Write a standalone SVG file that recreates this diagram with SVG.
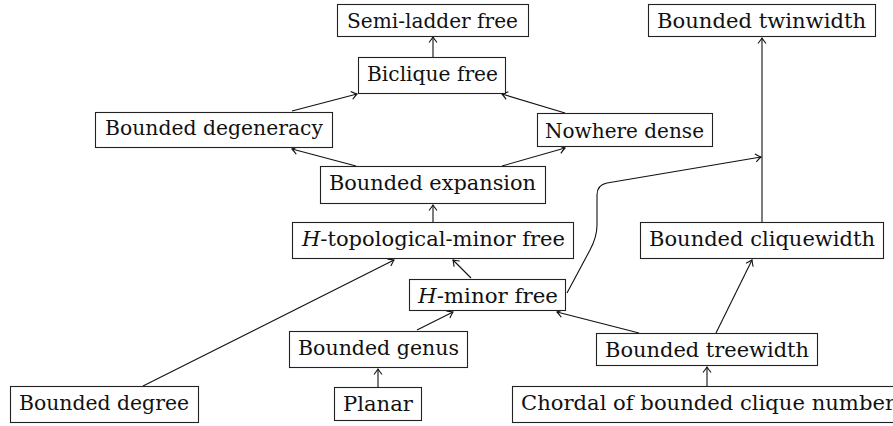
<svg xmlns="http://www.w3.org/2000/svg" width="893" height="426" viewBox="0 0 893 426">
<style>
.box{fill:#fff;stroke:#222;stroke-width:1.1}
.t{font-family:"DejaVu Serif","Liberation Serif",serif;font-size:19.5px;fill:#111;text-anchor:start}
.c{fill:none;stroke:#111;stroke-width:1.1;marker-end:url(#ar)}
</style>
<defs>
<marker id="ar" markerUnits="userSpaceOnUse" markerWidth="12" markerHeight="12" viewBox="-6 -6 12 12" refX="0" refY="0" orient="auto">
<path d="M-5.5,-4 Q-1.6,-0.9 0,0 Q-1.6,0.9 -5.5,4" fill="none" stroke="#111" stroke-width="1.1"/>
</marker>
</defs>
<rect width="893" height="426" fill="#fff"/>
<g id="connectors">
<line class="c" x1="433" y1="57" x2="433" y2="37"/>
<line class="c" x1="292" y1="111" x2="357" y2="94"/>
<line class="c" x1="565" y1="113" x2="502" y2="94"/>
<line class="c" x1="356" y1="166" x2="292" y2="149"/>
<line class="c" x1="502" y1="166" x2="565" y2="148"/>
<line class="c" x1="433" y1="222" x2="433" y2="205"/>
<line class="c" x1="471" y1="278" x2="453" y2="260"/>
<line class="c" x1="417" y1="330" x2="453" y2="312"/>
<line class="c" x1="378" y1="387" x2="378" y2="369"/>
<line class="c" x1="143" y1="386" x2="394" y2="260"/>
<line class="c" x1="639" y1="333" x2="557" y2="312"/>
<line class="c" x1="716" y1="333" x2="752" y2="260"/>
<line class="c" x1="707" y1="386" x2="707" y2="367"/>
<line class="c" x1="762" y1="222" x2="762" y2="38"/>
<path class="c" d="M567,293 L590,250 Q597,237 597,225 L597,195 Q597,185 607,183 L761,157"/>
</g>
<g id="semi-ladder"><rect class="box" x="337.5" y="4.5" width="191" height="32"/><text class="t" x="347" y="28" textLength="171" lengthAdjust="spacingAndGlyphs">Semi-ladder free</text></g>
<g id="biclique"><rect class="box" x="358.5" y="57.5" width="147" height="36"/><text class="t" x="367" y="81" textLength="131" lengthAdjust="spacingAndGlyphs">Biclique free</text></g>
<g id="degeneracy"><rect class="box" x="95.5" y="112.5" width="237" height="35"/><text class="t" x="105" y="135" textLength="218" lengthAdjust="spacingAndGlyphs">Bounded degeneracy</text></g>
<g id="nowhere"><rect class="box" x="537.5" y="113.5" width="175" height="33"/><text class="t" x="545" y="138" textLength="159" lengthAdjust="spacingAndGlyphs">Nowhere dense</text></g>
<g id="expansion"><rect class="box" x="320.5" y="166.5" width="225" height="37"/><text class="t" x="329" y="190" textLength="207" lengthAdjust="spacingAndGlyphs">Bounded expansion</text></g>
<g id="twinwidth"><rect class="box" x="648.5" y="4.5" width="227" height="32"/><text class="t" x="657" y="28" textLength="209" lengthAdjust="spacingAndGlyphs">Bounded twinwidth</text></g>
<g id="htop"><rect class="box" x="292.5" y="222.5" width="281" height="36"/><text class="t" x="302" y="246" textLength="263" lengthAdjust="spacingAndGlyphs"><tspan font-style="italic">H</tspan>-topological-minor free</text></g>
<g id="hminor"><rect class="box" x="409.5" y="279.5" width="156" height="31"/><text class="t" x="418" y="303" textLength="140" lengthAdjust="spacingAndGlyphs"><tspan font-style="italic">H</tspan>-minor free</text></g>
<g id="genus"><rect class="box" x="289.5" y="331.5" width="178" height="36"/><text class="t" x="298" y="355" textLength="161" lengthAdjust="spacingAndGlyphs">Bounded genus</text></g>
<g id="planar"><rect class="box" x="334.5" y="387.5" width="87" height="33"/><text class="t" x="343" y="411" textLength="70" lengthAdjust="spacingAndGlyphs">Planar</text></g>
<g id="degree"><rect class="box" x="10.5" y="386.5" width="188" height="36"/><text class="t" x="19" y="410" textLength="170" lengthAdjust="spacingAndGlyphs">Bounded degree</text></g>
<g id="treewidth"><rect class="box" x="596.5" y="333.5" width="221" height="32"/><text class="t" x="605" y="357" textLength="204" lengthAdjust="spacingAndGlyphs">Bounded treewidth</text></g>
<g id="cliquewidth"><rect class="box" x="640.5" y="222.5" width="243" height="36"/><text class="t" x="649" y="246" textLength="226" lengthAdjust="spacingAndGlyphs">Bounded cliquewidth</text></g>
<g id="chordal"><rect class="box" x="512.5" y="386.5" width="392" height="36"/><text class="t" x="521" y="410" textLength="374" lengthAdjust="spacingAndGlyphs">Chordal of bounded clique number</text></g>
</svg>
